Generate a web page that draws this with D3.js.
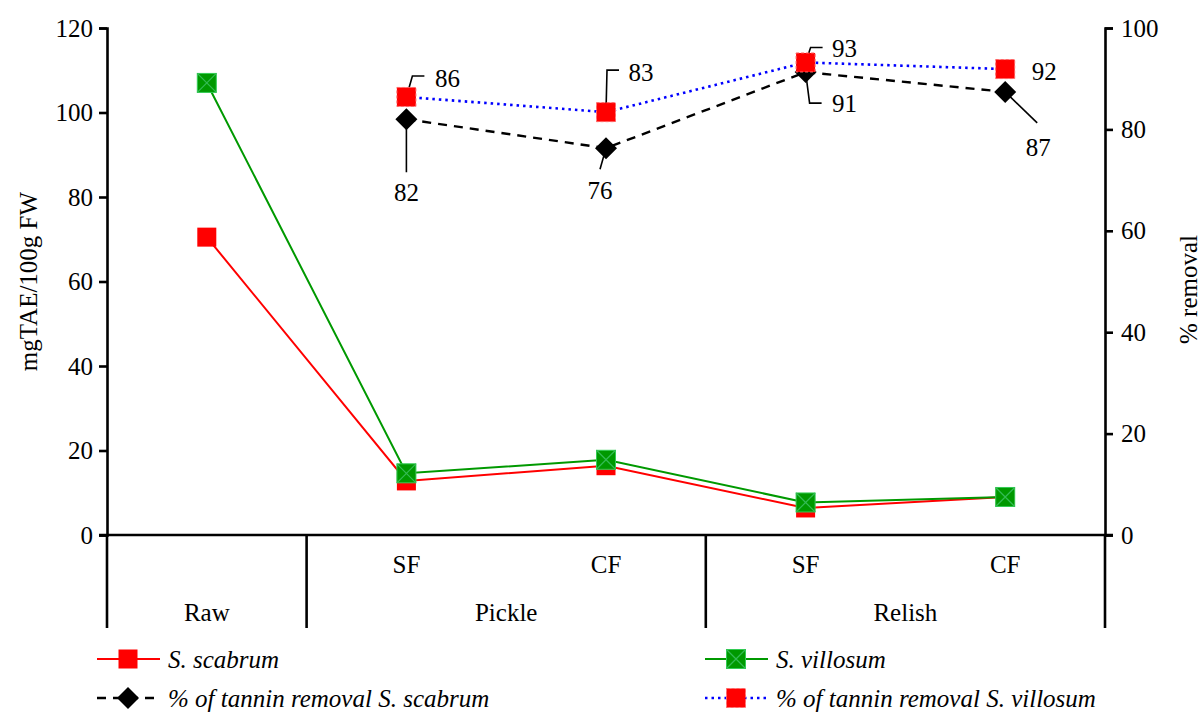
<!DOCTYPE html>
<html>
<head>
<meta charset="utf-8">
<script src="https://cdn.jsdelivr.net/npm/d3@7"></script>
<style>
  html, body { margin: 0; padding: 0; background: #fff; }
  svg { display: block; }
  svg text { font-family: "Liberation Serif", "Times New Roman", serif; fill: #000; }
</style>
</head>
<body>
<svg id="chart" width="1204" height="713"></svg>
<script>
// ---- data ----
const categories = ["Raw", "Pickle SF", "Pickle CF", "Relish SF", "Relish CF"];
const subLabels = ["", "SF", "CF", "SF", "CF"];
const groups = [
  { name: "Raw", members: ["Raw"] },
  { name: "Pickle", members: ["Pickle SF", "Pickle CF"] },
  { name: "Relish", members: ["Relish SF", "Relish CF"] }
];
const scabrum = [70.5, 12.8, 16.4, 6.4, 9.0];
const villosum = [107.0, 14.6, 17.8, 7.7, 9.0];
const removalCats = ["Pickle SF", "Pickle CF", "Relish SF", "Relish CF"];
const removalScabrum = [82.0, 76.3, 91.3, 87.4];
const removalVillosum = [86.4, 83.4, 93.2, 91.9];
const leftTicks = [0, 20, 40, 60, 80, 100, 120];
const rightTicks = [0, 20, 40, 60, 80, 100];
const leftTitle = "mgTAE/100g FW";
const rightTitle = "% removal";
const legendNames = ["S. scabrum", "S. villosum", "% of tannin removal S. scabrum", "% of tannin removal S. villosum"];

// label placement (layout only): label offset and leader path relative to the point
const labelScabrum = [
  { tx: 0, ty: 73, lead: [[0, 0], [0, 53]] },
  { tx: -6, ty: 42, lead: [[0, 0], [-6, 21]] },
  { tx: 39, ty: 31, lead: [[0, 0], [4, 31], [16, 31]] },
  { tx: 33, ty: 55, lead: [[0, 0], [32, 31]] }
];
const labelVillosum = [
  { tx: 41, ty: -19, lead: [[0, 0], [6, -21], [18, -21]] },
  { tx: 35, ty: -40, lead: [[0, 0], [1, -42], [13, -42]] },
  { tx: 39, ty: -14, lead: [[0, 0], [5, -15], [17, -15]] },
  { tx: 39, ty: 2, lead: null }
];

// ---- layout ----
const svg = d3.select("#chart");
const L = 107, R = 1105, T = 28, B = 535, bottomExt = 628;
const FONT = 25;

const x = d3.scaleBand().domain(categories).range([L, R]).padding(0);
const cx = c => x(c) + x.bandwidth() / 2;
const yL = d3.scaleLinear().domain([0, 120]).range([B, T]);
const yR = d3.scaleLinear().domain([0, 100]).range([B, T]);

// axes
const axL = svg.append("g").attr("transform", `translate(${L},0)`)
  .call(d3.axisLeft(yL).tickValues(leftTicks).tickSizeOuter(0).tickSize(8).tickPadding(6));
const axR = svg.append("g").attr("transform", `translate(${R},0)`)
  .call(d3.axisRight(yR).tickValues(rightTicks).tickSizeOuter(0).tickSize(8).tickPadding(8));
[axL, axR].forEach(a => {
  a.attr("font-family", null);
  a.select(".domain").attr("stroke", "#000").attr("stroke-width", 2.6);
  a.selectAll(".tick line").attr("stroke", "#000").attr("stroke-width", 2.6);
  a.selectAll(".tick text").attr("font-size", FONT).attr("fill", "#000");
});

// x axis baseline
svg.append("line").attr("x1", L - 8).attr("x2", R + 8).attr("y1", B).attr("y2", B)
  .attr("stroke", "#000").attr("stroke-width", 2.6);

// vertical group separators
const seps = [L, x("Pickle SF"), x("Relish SF"), R];
svg.selectAll(".sep").data(seps).join("line").attr("class", "sep")
  .attr("x1", d => d).attr("x2", d => d).attr("y1", B).attr("y2", bottomExt)
  .attr("stroke", "#000").attr("stroke-width", 2.6);

// sub-category labels
svg.selectAll(".sub").data(categories).join("text").attr("class", "sub")
  .attr("x", d => cx(d)).attr("y", 573).attr("text-anchor", "middle")
  .attr("font-size", FONT).text((d, i) => subLabels[i]);
// group labels
svg.selectAll(".grp").data(groups).join("text").attr("class", "grp")
  .attr("x", g => (x(g.members[0]) + x(g.members[g.members.length - 1]) + x.bandwidth()) / 2)
  .attr("y", 621).attr("text-anchor", "middle").attr("font-size", FONT).text(g => g.name);

// axis titles
svg.append("text").attr("transform", `translate(37,${(T + B) / 2}) rotate(-90)`)
  .attr("text-anchor", "middle").attr("font-size", FONT).text(leftTitle);
svg.append("text").attr("transform", `translate(1197,${(T + B) / 2 + 8}) rotate(-90)`)
  .attr("text-anchor", "middle").attr("font-size", FONT).text(rightTitle);

// ---- series ----
const sq = 19;
function redSquare(g, dashed) {
  g.append("rect").attr("x", -sq / 2).attr("y", -sq / 2).attr("width", sq).attr("height", sq)
    .attr("fill", "#ff0000")
    .attr("stroke", dashed ? "#ff6666" : "none").attr("stroke-width", 1)
    .attr("stroke-dasharray", dashed ? "3,2" : null);
}
function greenSquare(g) {
  g.append("rect").attr("x", -sq / 2).attr("y", -sq / 2).attr("width", sq).attr("height", sq)
    .attr("fill", "#009900").attr("stroke", "#33cc55").attr("stroke-width", 1);
  g.append("path").attr("d", `M${-sq / 2},${-sq / 2}L${sq / 2},${sq / 2}M${sq / 2},${-sq / 2}L${-sq / 2},${sq / 2}`)
    .attr("stroke", "#33bb55").attr("stroke-width", 1.2);
}
function diamond(g) {
  const s = 11;
  g.append("path").attr("d", `M0,${-s}L${s},0L0,${s}L${-s},0Z`).attr("fill", "#000");
}

const lineL = d3.line().x(d => cx(d.c)).y(d => yL(d.v));
const lineR = d3.line().x(d => cx(d.c)).y(d => yR(d.v));

const scData = categories.map((c, i) => ({ c, v: scabrum[i] }));
const viData = categories.map((c, i) => ({ c, v: villosum[i] }));
const rsData = removalCats.map((c, i) => ({ c, v: removalScabrum[i] }));
const rvData = removalCats.map((c, i) => ({ c, v: removalVillosum[i] }));

svg.append("path").datum(scData).attr("d", lineL).attr("fill", "none").attr("stroke", "#ff0000").attr("stroke-width", 2);
svg.append("path").datum(viData).attr("d", lineL).attr("fill", "none").attr("stroke", "#009900").attr("stroke-width", 2);
scData.forEach(d => redSquare(svg.append("g").attr("transform", `translate(${cx(d.c)},${yL(d.v)})`), false));
viData.forEach(d => greenSquare(svg.append("g").attr("transform", `translate(${cx(d.c)},${yL(d.v)})`)));

svg.append("path").datum(rsData).attr("d", lineR).attr("fill", "none").attr("stroke", "#000")
  .attr("stroke-width", 2.4).attr("stroke-dasharray", "9,7");
svg.append("path").datum(rvData).attr("d", lineR).attr("fill", "none").attr("stroke", "#0000ff")
  .attr("stroke-width", 2.6).attr("stroke-dasharray", "2.5,4");

// leader lines
function leaders(data, conf) {
  data.forEach((d, i) => {
    const px = cx(d.c), py = yR(d.v), cf = conf[i];
    if (cf.lead) {
      svg.append("path").attr("d", d3.line()(cf.lead.map(p => [px + p[0], py + p[1]])))
        .attr("fill", "none").attr("stroke", "#000").attr("stroke-width", 1.6);
    }
  });
}
leaders(rsData, labelScabrum);
leaders(rvData, labelVillosum);

rsData.forEach(d => diamond(svg.append("g").attr("transform", `translate(${cx(d.c)},${yR(d.v)})`)));
rvData.forEach(d => redSquare(svg.append("g").attr("transform", `translate(${cx(d.c)},${yR(d.v)})`), true));

function labelText(data, conf) {
  data.forEach((d, i) => {
    const px = cx(d.c), py = yR(d.v), cf = conf[i];
    svg.append("text").attr("x", px + cf.tx).attr("y", py + cf.ty).attr("dy", "0.35em")
      .attr("text-anchor", "middle").attr("font-size", FONT).text(d3.format(".0f")(d.v));
  });
}
labelText(rsData, labelScabrum);
labelText(rvData, labelVillosum);

// ---- legend ----
const legendItems = [
  { x: 97, y: 659, name: legendNames[0], stroke: "#ff0000", dash: null, w: 2, marker: g => redSquare(g, false) },
  { x: 705, y: 659, name: legendNames[1], stroke: "#009900", dash: null, w: 2, marker: greenSquare },
  { x: 97, y: 698, name: legendNames[2], stroke: "#000", dash: "9,7", w: 2.4, marker: diamond },
  { x: 705, y: 698, name: legendNames[3], stroke: "#0000ff", dash: "2.5,4", w: 2.6, marker: g => redSquare(g, true) }
];
legendItems.forEach(it => {
  const g = svg.append("g").attr("transform", `translate(${it.x},${it.y})`);
  g.append("line").attr("x1", 0).attr("x2", 63).attr("y1", 0).attr("y2", 0)
    .attr("stroke", it.stroke).attr("stroke-width", it.w).attr("stroke-dasharray", it.dash);
  it.marker(g.append("g").attr("transform", "translate(31,0)"));
  g.append("text").attr("x", 71).attr("y", 0).attr("dy", "0.35em").attr("font-size", FONT)
    .attr("font-style", "italic").text(it.name);
});
</script>
</body>
</html>
